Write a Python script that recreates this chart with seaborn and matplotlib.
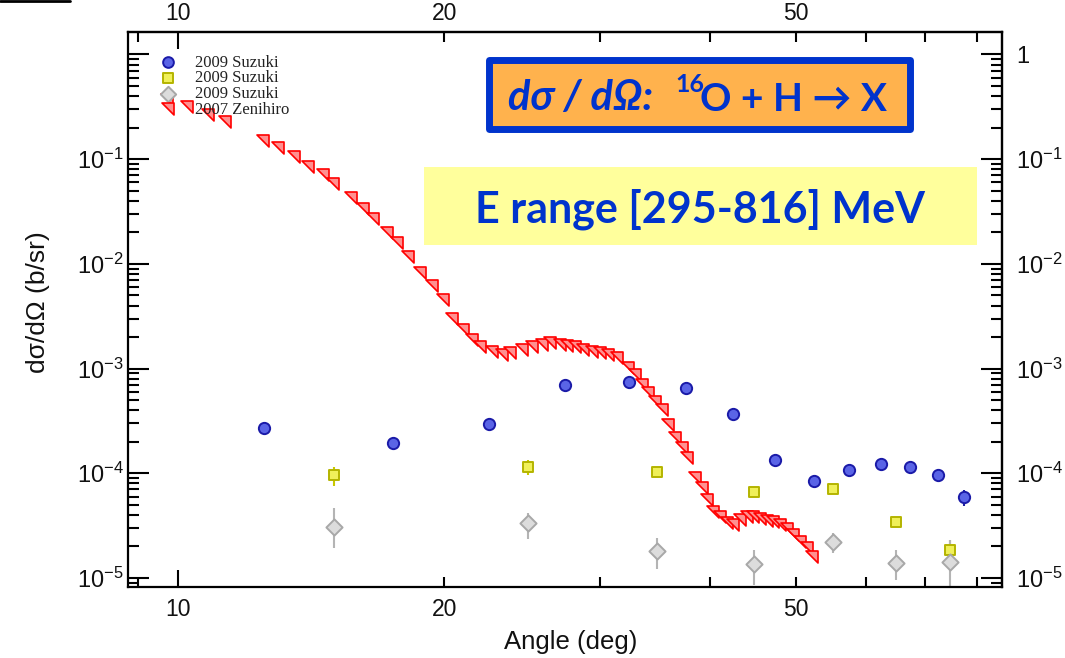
import matplotlib
matplotlib.use("Agg")
import matplotlib.pyplot as plt
import seaborn as sns
import numpy as np
from matplotlib.path import Path
from matplotlib.patches import Rectangle
from matplotlib.lines import Line2D
from matplotlib.text import Annotation
from matplotlib.ticker import FixedLocator, NullFormatter, FuncFormatter, LogLocator

# ---------------- data ----------------
suzuki_circ_angle = [12.5, 17.5, 22.5, 27.4, 32.4, 37.5, 42.4, 47.3, 52.4, 57.4, 62.4, 67.3, 72.4, 77.5]
suzuki_circ_xs = [2.71e-4, 1.95e-4, 2.96e-4, 6.97e-4, 7.45e-4, 6.5e-4, 3.68e-4, 1.34e-4,
                  8.4e-5, 1.07e-4, 1.23e-4, 1.15e-4, 9.6e-5, 5.9e-5]
suzuki_circ_err = [3.3e-5, 1.6e-5, 1.8e-5, 3.5e-5, 3.7e-5, 3.3e-5, 2.2e-5, 1.3e-5,
                   6.7e-6, 6.4e-6, 7.4e-6, 6.9e-6, 6.7e-6, 1.0e-5]

suzuki_sq_angle = [15.0, 24.9, 34.8, 44.8, 55.0, 64.9, 74.7]
suzuki_sq_xs = [9.6e-5, 1.15e-4, 1.03e-4, 6.6e-5, 7.1e-5, 3.43e-5, 1.85e-5]
suzuki_sq_err = [2.0e-5, 1.8e-5, 4e-6, 3e-6, 3e-6, 3.5e-6, 4.5e-6]

suzuki_dia_angle = [15.0, 24.9, 34.8, 44.8, 55.0, 64.9, 74.7]
suzuki_dia_xs = [3.07e-5, 3.35e-5, 1.81e-5, 1.36e-5, 2.21e-5, 1.39e-5, 1.42e-5]
suzuki_dia_err_lo = [1.14e-5, 0.99e-5, 0.59e-5, 0.50e-5, 0.48e-5, 0.43e-5, 0.65e-5]
suzuki_dia_err_hi = [1.59e-5, 0.83e-5, 0.60e-5, 0.49e-5, 0.48e-5, 0.46e-5, 0.89e-5]

zenihiro_angle = [9.72, 10.24, 10.81, 11.30, 12.48, 12.97, 13.53, 14.03, 14.59, 14.97, 15.69, 16.19,
                  16.62, 17.24, 17.69, 18.20, 18.78, 19.38, 19.94, 20.42, 21.01, 21.51, 21.96, 22.66,
                  23.26, 23.75, 24.49, 25.15, 25.81, 26.36, 27.05, 27.54, 28.13, 28.72, 29.40, 30.02,
                  30.65, 31.38, 32.28, 32.88, 33.49, 34.02, 34.64, 35.28, 35.83, 36.49, 37.16, 37.65,
                  38.44, 39.16, 39.67, 40.29, 41.03, 41.78, 42.44, 43.22, 44.02, 44.72, 45.54, 46.38,
                  47.11, 47.98, 48.86, 49.63, 50.54, 51.47, 52.15]
zenihiro_xs = [0.367, 0.315, 0.264, 0.227, 0.149, 0.128, 0.105, 0.0842, 0.0706, 0.0580, 0.0426, 0.0334,
               0.0269, 0.0197, 0.0158, 0.01164, 0.00819, 0.00615, 0.00452, 0.00298, 0.00234, 0.001876,
               0.001608, 0.001442, 0.001349, 0.001409, 0.001506, 0.001608, 0.001680, 0.001757, 0.001680,
               0.001644, 0.001608, 0.001506, 0.001442, 0.001409, 0.001349, 0.001262, 0.001014, 8.69e-4,
               6.97e-4, 5.85e-4, 4.80e-4, 4.02e-4, 2.89e-4, 2.17e-4, 1.745e-4, 1.40e-4, 9.02e-5, 7.24e-5,
               5.56e-5, 4.27e-5, 3.83e-5, 3.35e-5, 3.21e-5, 3.58e-5, 3.83e-5, 3.83e-5, 3.66e-5, 3.50e-5,
               3.43e-5, 3.21e-5, 2.94e-5, 2.57e-5, 2.21e-5, 1.93e-5, 1.59e-5]

series_labels = ["2009 Suzuki", "2009 Suzuki", "2009 Suzuki", "2007 Zenihiro"]
x_major_ticks = [10, 20, 50]
x_minor_ticks = [9, 30, 40, 60, 70, 80]
y_major_ticks = [1e-5, 1e-4, 1e-3, 1e-2, 1e-1, 1]
x_label = "Angle (deg)"
y_label = "dσ/dΩ (b/sr)"
title_italic = "dσ / dΩ:"
title_sup = "16"
title_rest = "O + H → X"
subtitle = "E range [295-816] MeV"

# ---------------- style ----------------
sns.set_theme(style="ticks")
plt.rcParams["font.family"] = ["Liberation Sans", "DejaVu Sans"]
plt.rcParams["mathtext.fontset"] = "custom"
plt.rcParams["mathtext.rm"] = "Liberation Sans"
plt.rcParams["mathtext.it"] = "Liberation Sans:italic"
plt.rcParams["mathtext.bf"] = "Liberation Sans:bold"

fig = plt.figure(figsize=(10.65, 6.58), dpi=100)
ax = fig.add_axes([0.1202, 0.1079, 0.8207, 0.8439])
ax.set_xscale("log")
ax.set_yscale("log")

# error bars
ax.errorbar(suzuki_circ_angle, suzuki_circ_xs, yerr=suzuki_circ_err, fmt="none",
            ecolor="#2020a0", elinewidth=1.5, capsize=0, zorder=2)
ax.errorbar(suzuki_sq_angle, suzuki_sq_xs, yerr=suzuki_sq_err, fmt="none",
            ecolor="#c8c800", elinewidth=1.5, capsize=0, zorder=2)
ax.errorbar(suzuki_dia_angle, suzuki_dia_xs, yerr=[suzuki_dia_err_lo, suzuki_dia_err_hi], fmt="none",
            ecolor="#b4b4b4", elinewidth=1.5, capsize=0, zorder=2)

# markers
sns.scatterplot(x=suzuki_circ_angle, y=suzuki_circ_xs, ax=ax, marker="o", s=66,
                color="#5a64e6", edgecolor="#1a1aa8", linewidth=1.4, label=series_labels[0], zorder=3)
sns.scatterplot(x=suzuki_sq_angle, y=suzuki_sq_xs, ax=ax, marker="s", s=55,
                color="#f0f05a", edgecolor="#b4b400", linewidth=1.4, label=series_labels[1], zorder=3)
sns.scatterplot(x=suzuki_dia_angle, y=suzuki_dia_xs, ax=ax, marker="D", s=68,
                color="#dcdcdc", edgecolor="#a8a8a8", linewidth=1.4, label=series_labels[2], zorder=3)

tri = Path([(-1, 1), (1, 1), (1, -1), (-1, 1)],
           [Path.MOVETO, Path.LINETO, Path.LINETO, Path.CLOSEPOLY])
sns.scatterplot(x=zenihiro_angle, y=zenihiro_xs, ax=ax, marker=tri, s=72,
                color="#ff9090", edgecolor="#ff0000", linewidth=1.2, label=series_labels[3], zorder=4)

ax.set_xlim(8.78, 85.5)
ax.set_ylim(8.2e-6, 1.65)

# ticks
ax.xaxis.set_major_locator(FixedLocator(x_major_ticks))
ax.xaxis.set_minor_locator(FixedLocator(x_minor_ticks))
ax.xaxis.set_major_formatter(FuncFormatter(lambda v, p: f"{v:g}"))
ax.xaxis.set_minor_formatter(NullFormatter())
ax.yaxis.set_major_locator(FixedLocator(y_major_ticks))
ax.yaxis.set_minor_locator(LogLocator(base=10, subs=np.arange(2, 10), numticks=20))
ax.yaxis.set_minor_formatter(NullFormatter())


def ylab(v, p, show_one):
    e = int(round(np.log10(v)))
    if e == 0:
        return "1" if show_one else ""
    return r"$\mathregular{10^{%d}}$" % e


ax.yaxis.set_major_formatter(FuncFormatter(lambda v, p: ylab(v, p, False)))

ax.tick_params(axis="both", which="both", direction="in", top=True, right=True,
               width=1.5, color="black", labelcolor="#111111")
ax.tick_params(axis="x", which="both", length=7.5, pad=8, labelsize=16.5)
ax.tick_params(axis="y", which="major", length=15, pad=3, labelsize=17)
ax.tick_params(axis="y", which="minor", length=8)
for sp in ax.spines.values():
    sp.set_linewidth(1.6)
    sp.set_color("black")

# longer tick at 10
t10 = ax.xaxis.get_major_ticks()[0]
t10.tick1line.set_markersize(12.5)
t10.tick2line.set_markersize(12.5)

# top / right labels
secx = ax.secondary_xaxis("top")
secx.xaxis.set_major_locator(FixedLocator(x_major_ticks))
secx.xaxis.set_minor_locator(FixedLocator([]))
secx.xaxis.set_major_formatter(FuncFormatter(lambda v, p: f"{v:g}"))
secx.tick_params(axis="x", which="both", length=0, pad=5, labelsize=16.5, labelcolor="#111111")
secy = ax.secondary_yaxis("right")
secy.yaxis.set_major_locator(FixedLocator(y_major_ticks))
secy.yaxis.set_minor_locator(FixedLocator([]))
secy.yaxis.set_major_formatter(FuncFormatter(lambda v, p: ylab(v, p, True)))
secy.tick_params(axis="y", which="both", length=0, pad=10, labelsize=17, labelcolor="#111111")
for s in (secx, secy):
    for sp in s.spines.values():
        sp.set_linewidth(1.6)

ax.set_xlabel(x_label, fontsize=18.5, color="#111111", ha="center", va="center")
ax.xaxis.set_label_coords(0.506, -0.099)
ax.set_ylabel(y_label, fontsize=19, color="#111111", ha="center", va="center")
ax.yaxis.set_label_coords(-0.103, 0.513)

# legend
h, l = ax.get_legend_handles_labels()
leg = ax.legend(h, l, loc="upper left", bbox_to_anchor=(0.1507, 0.917), bbox_transform=fig.transFigure,
                frameon=False, prop={"family": "Liberation Serif", "size": 12},
                handlelength=0.9, handletextpad=1.2, labelspacing=-0.02, borderpad=0,
                borderaxespad=0, scatterpoints=1, markerscale=0.95)
leg.set_zorder(6)
for t in leg.get_texts():
    t.set_color("#222222")

# annotation boxes
blue = "#0033cc"
box1 = Rectangle((0.4587, 0.8032), 0.3953, 0.1049, transform=fig.transFigure,
                 facecolor="#ffb24d", edgecolor=blue, linewidth=5.0, joinstyle="round", zorder=10)
fig.add_artist(box1)
box2 = Rectangle((0.3981, 0.6277), 0.5192, 0.1185, transform=fig.transFigure,
                 facecolor="#ffff9c", edgecolor="none", zorder=10)
fig.add_artist(box2)

tfam = ["Lato", "Noto Sans", "DejaVu Sans"]
t1 = fig.text(0.477, 0.8328, title_italic, fontsize=30, fontweight="bold", fontstyle="italic",
              color=blue, family=tfam, ha="left", va="baseline", zorder=11)
t2 = Annotation(title_sup, xy=(1, 0), xycoords=t1, xytext=(16, 15), textcoords="offset points",
                fontsize=18, fontweight="bold", color=blue, family=tfam, ha="left", va="bottom",
                annotation_clip=False, zorder=11)
fig.add_artist(t2)
t3 = Annotation(title_rest, xy=(1, 0), xycoords=t1, xytext=(34, 0), textcoords="offset points",
                fontsize=28, fontweight="bold", color=blue, family=tfam, ha="left", va="bottom",
                annotation_clip=False, zorder=11)
fig.add_artist(t3)
fig.text(0.657, 0.6815, subtitle, fontsize=31, fontweight="bold", color=blue, family=tfam,
         ha="center", va="center", zorder=11)

fig.add_artist(Line2D([0, 0.066], [0.998, 0.998], color="black", linewidth=2.0, transform=fig.transFigure))

fig.savefig("out.png", dpi=100)
